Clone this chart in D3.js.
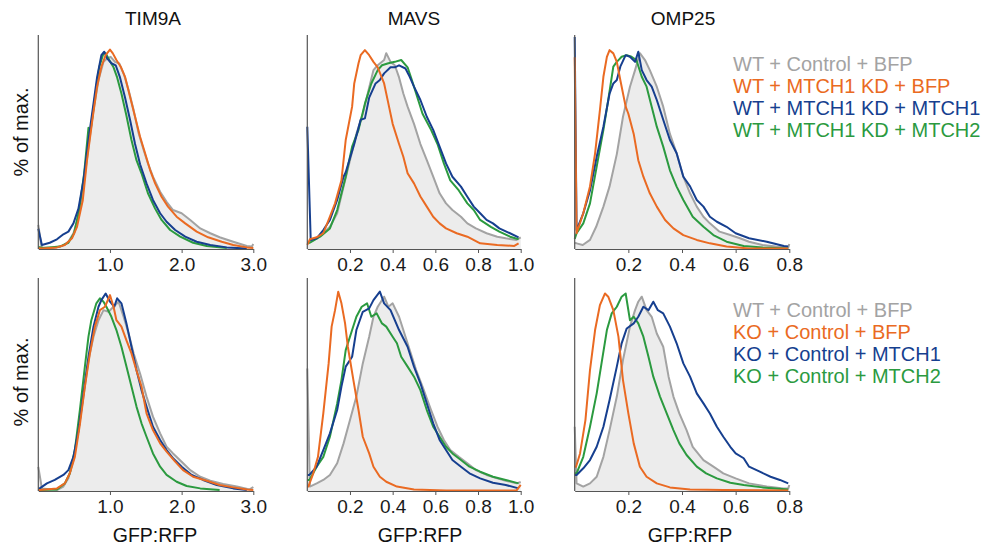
<!DOCTYPE html>
<html><head><meta charset="utf-8">
<script src="https://cdn.jsdelivr.net/npm/d3@7"></script>
<style>body{margin:0;background:#fff} svg{display:block} text{font-family:"Liberation Sans",Arial,Helvetica,sans-serif}</style>
</head><body><svg id="c" width="987" height="550"></svg>
<script>
// ---- data: [GFP:RFP, % of max] ----
const tim9aTopGray=[[0,11.9],[0.047,0.8],[0.21,0.5],[0.33,1.5],[0.42,3.6],[0.49,7.8],[0.56,16],[0.63,31],[0.70,50.7],[0.77,68.8],[0.84,83.7],[0.91,92.7],[0.96,94.4],[1.01,95.2],[1.07,92.7],[1.13,91.9],[1.20,86],[1.26,78.7],[1.33,68.8],[1.40,57.3],[1.47,49],[1.53,42.4],[1.60,35.8],[1.70,28.4],[1.79,23.4],[1.88,19.3],[2.0,17.7],[2.12,14.4],[2.26,10.2],[2.40,7.8],[2.53,5.8],[2.72,3.6],[2.91,1.5],[2.98,1.2],[3.0,2.5]];
const tim9aTopOrange=[[0,0.5],[0.05,0.3],[0.26,0.8],[0.37,2],[0.47,5.3],[0.54,11],[0.62,24],[0.68,44],[0.76,65.5],[0.82,80.4],[0.88,90.3],[0.94,96],[1.0,98.8],[1.04,96.9],[1.09,93.6],[1.15,90.3],[1.21,85.3],[1.28,75.4],[1.35,65.5],[1.42,55.6],[1.49,47.4],[1.56,39.1],[1.63,32.5],[1.72,25.9],[1.81,21],[1.93,16],[2.05,12.7],[2.21,8.6],[2.37,5.8],[2.56,3.6],[2.72,2],[2.91,0.8],[3.0,0.5]];
const tim9aTopBlue=[[0,10],[0.05,2],[0.16,3.1],[0.26,4.8],[0.35,7.3],[0.42,8.6],[0.49,12.7],[0.56,20],[0.63,34],[0.70,54],[0.77,72],[0.82,85],[0.88,96],[0.92,97.7],[0.96,94.4],[1.02,92],[1.08,91],[1.14,85],[1.21,75],[1.28,64],[1.35,52],[1.42,42],[1.51,32.5],[1.60,24.3],[1.70,17.7],[1.79,13.5],[1.91,9.4],[2.05,6.1],[2.21,3.6],[2.40,2],[2.63,0.8],[2.91,0.3]];
const tim9aTopGreen=[[0,1],[0.07,0.5],[0.30,1.2],[0.42,3.1],[0.50,7.8],[0.57,19.3],[0.64,37.5],[0.70,60],[0.73,59],[0.79,75],[0.85,90],[0.91,97],[0.94,97],[0.99,93.6],[1.05,90],[1.10,85],[1.16,77],[1.23,66],[1.30,54],[1.37,44],[1.44,37.5],[1.53,27.6],[1.63,20],[1.72,14.4],[1.84,9.4],[1.98,6.1],[2.16,3.1],[2.35,1.5],[2.63,0.5]];

const mavsTopGray=[[0,3],[0.012,3.6],[0.044,5.3],[0.075,7.8],[0.106,11],[0.14,17.7],[0.17,31],[0.20,44],[0.23,57],[0.26,67],[0.29,80],[0.31,88.6],[0.33,91],[0.36,93.6],[0.37,97],[0.39,92.7],[0.41,91],[0.43,85],[0.45,77],[0.47,70.5],[0.50,62],[0.53,52],[0.56,44],[0.59,35.8],[0.62,27.6],[0.65,22.6],[0.68,19.3],[0.72,16],[0.75,12.7],[0.79,10.2],[0.84,7.8],[0.89,6.1],[0.93,5.3],[0.98,4.5],[1.0,5.8]];
const mavsTopOrange=[[0,2],[0.012,4.8],[0.044,5.8],[0.075,7.8],[0.106,16],[0.13,22.6],[0.16,34],[0.18,54],[0.21,70.5],[0.22,82],[0.24,92],[0.25,96],[0.27,98.5],[0.29,96],[0.31,92.7],[0.33,90],[0.36,82],[0.38,72],[0.40,62],[0.43,52],[0.45,45.7],[0.47,37.5],[0.50,32.5],[0.53,26],[0.56,21],[0.59,16],[0.62,12.7],[0.65,10.2],[0.70,7.8],[0.75,6.1],[0.81,2.8],[0.89,2],[0.97,1.5],[0.99,2.8]];
const mavsTopBlue=[[0,60.6],[0.016,4.5],[0.044,5.3],[0.075,9.4],[0.106,14.4],[0.14,24.3],[0.17,35.8],[0.18,38],[0.22,52],[0.25,64],[0.27,64.7],[0.29,75],[0.32,82],[0.34,83.7],[0.36,87],[0.39,90],[0.41,90],[0.43,91],[0.46,89.4],[0.48,85.3],[0.50,80.4],[0.53,73.8],[0.56,65.5],[0.59,59],[0.62,50.7],[0.65,42.4],[0.68,35.8],[0.72,30.9],[0.75,25.9],[0.78,21],[0.81,17.7],[0.84,14.4],[0.87,12.7],[0.90,10.2],[0.95,7.8],[0.99,5.8]];
const mavsTopGreen=[[0,3],[0.012,3.1],[0.06,6.1],[0.106,10.2],[0.14,19.3],[0.18,35.8],[0.21,50.7],[0.24,59],[0.27,72],[0.30,82],[0.33,88.6],[0.35,91],[0.38,92],[0.41,92.7],[0.44,93.6],[0.47,90],[0.49,83.7],[0.51,77],[0.54,67],[0.58,59],[0.61,52],[0.64,42.4],[0.67,34],[0.71,29],[0.75,22.6],[0.78,19.3],[0.81,14.4],[0.86,11],[0.90,8.6],[0.95,6.1],[0.99,4.8]];

const omp25TopGray=[[0,3],[0.007,2.8],[0.03,2],[0.057,4.5],[0.08,11],[0.107,21],[0.13,31],[0.157,47],[0.18,65.5],[0.206,80.4],[0.225,88.6],[0.243,97],[0.262,93.6],[0.28,88.6],[0.306,80.4],[0.33,70.5],[0.355,57],[0.38,47.4],[0.405,35.8],[0.43,27.6],[0.455,21],[0.48,16],[0.504,12.7],[0.54,8.6],[0.58,6.9],[0.616,5.3],[0.65,3.6],[0.70,2],[0.75,1.2],[0.796,0.8],[0.80,2.5]];
const omp25TopOrange=[[0,95],[0.007,7.8],[0.032,17.7],[0.057,31],[0.076,47.4],[0.094,68.8],[0.107,85.3],[0.12,95.2],[0.13,98.5],[0.144,96.9],[0.157,92.7],[0.17,83.7],[0.19,70.5],[0.20,67],[0.22,57],[0.237,44],[0.256,35.8],[0.28,27.6],[0.306,21],[0.337,14.4],[0.368,10.2],[0.405,6.9],[0.455,4.5],[0.504,2.8],[0.566,1.2],[0.65,0.3],[0.796,0.3]];
const omp25TopBlue=[[0,105],[0.007,9.4],[0.032,17.7],[0.057,29],[0.082,45.7],[0.107,60.6],[0.13,77],[0.144,82],[0.157,83.7],[0.17,90.3],[0.19,96],[0.206,95.2],[0.225,92.7],[0.237,97.7],[0.25,88.6],[0.268,83.7],[0.287,80.4],[0.306,73.8],[0.33,64],[0.355,54],[0.38,47.4],[0.405,35.8],[0.43,31],[0.455,24.3],[0.48,21],[0.504,16],[0.53,13.5],[0.566,11],[0.60,7.8],[0.65,5.3],[0.716,3.6],[0.78,1.5],[0.796,1.2]];
const omp25TopGreen=[[0,5],[0.007,7.8],[0.032,12.7],[0.057,22.6],[0.082,40.8],[0.107,59],[0.125,73.8],[0.144,90.3],[0.157,92.7],[0.175,95.2],[0.194,96],[0.212,95.2],[0.23,93.6],[0.25,85.3],[0.268,80.4],[0.287,70.5],[0.306,60.6],[0.33,50.7],[0.355,39],[0.38,30.9],[0.405,24.3],[0.44,16],[0.48,11],[0.517,6.9],[0.566,3.6],[0.63,1.5],[0.70,0.8],[0.796,0.3]];

const tim9aBotGray=[[0,12],[0.05,1.3],[0.26,0.5],[0.35,2.2],[0.42,6.3],[0.49,15.4],[0.56,30],[0.63,47],[0.70,65],[0.77,76.8],[0.84,85],[0.91,90],[0.98,89.2],[1.05,91.7],[1.12,94.2],[1.19,86.7],[1.26,78.4],[1.33,68.5],[1.42,58.5],[1.51,47],[1.60,37],[1.70,28.7],[1.79,22],[1.88,18.7],[2.0,14.6],[2.12,10.4],[2.26,7.1],[2.40,5.1],[2.58,3.5],[2.77,2.2],[2.95,0.8],[3.0,2]];
const tim9aBotOrange=[[0,0.5],[0.02,0.5],[0.26,1.3],[0.37,3.8],[0.44,8.8],[0.51,17],[0.58,33],[0.65,52],[0.72,68.5],[0.79,81.8],[0.86,90],[0.93,91.7],[1.0,97.5],[1.05,91.7],[1.09,85],[1.16,81.8],[1.23,75],[1.30,68.5],[1.37,60],[1.44,52],[1.51,38.6],[1.60,30.3],[1.70,23.7],[1.79,19.6],[1.91,14.6],[2.02,10.4],[2.16,7.1],[2.35,5.1],[2.53,3],[2.72,1.8],[2.91,0.8],[3.0,0.5]];
const tim9aBotBlue=[[0,1.3],[0.02,1.3],[0.12,3.8],[0.23,5.5],[0.35,8],[0.42,10.4],[0.49,17],[0.56,30],[0.63,48.6],[0.70,66.8],[0.77,81.8],[0.84,91.7],[0.88,95],[0.94,98.3],[1.0,94.2],[1.06,91.7],[1.10,95.9],[1.16,93.4],[1.23,83.4],[1.30,71.8],[1.37,60.2],[1.44,50.2],[1.51,42],[1.60,32],[1.70,25.4],[1.79,20.4],[1.88,16.3],[2.0,12.1],[2.14,8],[2.30,5.5],[2.49,3],[2.72,1.3],[2.91,0.5]];
const tim9aBotGreen=[[0,0.5],[0.02,0.5],[0.26,0.8],[0.37,3.8],[0.44,8.8],[0.51,20.4],[0.58,40.3],[0.65,61.9],[0.70,76.8],[0.74,85],[0.81,93.4],[0.86,95.9],[0.91,94.2],[0.95,91.7],[1.02,86.7],[1.09,80.1],[1.16,71.8],[1.23,61.9],[1.30,52],[1.37,42],[1.44,33.7],[1.51,27],[1.60,18.7],[1.70,12.1],[1.79,8],[1.93,4.6],[2.07,2.5],[2.26,1.3],[2.53,0.5]];

const mavsBotGray=[[0,61],[0.012,2.2],[0.044,3.8],[0.075,5.5],[0.106,8],[0.14,13.8],[0.17,23.7],[0.20,35.3],[0.23,47],[0.26,63.5],[0.29,76.8],[0.31,86.7],[0.33,91.7],[0.36,96.7],[0.38,91.7],[0.40,93.4],[0.43,86.7],[0.45,80.1],[0.48,70.1],[0.51,60.2],[0.54,52],[0.58,40.3],[0.61,32],[0.64,25.4],[0.67,20.4],[0.71,17],[0.75,13.8],[0.79,10.4],[0.84,8],[0.89,6.3],[0.93,5.1],[0.98,3.8],[1.0,4.5]];
const mavsBotOrange=[[0,2.2],[0.005,2.2],[0.028,8.8],[0.05,17],[0.075,38.6],[0.10,63.5],[0.114,81.8],[0.13,90],[0.145,99.2],[0.16,93.4],[0.177,83.4],[0.19,71.8],[0.216,55.2],[0.24,40.3],[0.26,27],[0.29,18.7],[0.31,12.1],[0.34,7.1],[0.37,4.6],[0.42,2.2],[0.50,0.8],[0.65,0.2],[0.98,0.2],[1.0,3]];
const mavsBotBlue=[[0,8],[0.01,8],[0.044,12.1],[0.075,20.4],[0.106,28.7],[0.14,40.3],[0.16,52],[0.18,61.9],[0.21,66.8],[0.23,80.1],[0.26,89.2],[0.29,90.9],[0.31,95],[0.34,99.2],[0.36,93.4],[0.39,90],[0.41,85],[0.43,80.1],[0.47,71.8],[0.50,61.9],[0.53,53.6],[0.56,43.6],[0.59,33.7],[0.62,25.4],[0.65,20.4],[0.68,15.4],[0.72,12.1],[0.76,8.8],[0.81,6.3],[0.87,4.1],[0.93,3],[0.99,1.3]];
const mavsBotGreen=[[0,5.5],[0.01,5.5],[0.044,12.1],[0.075,17],[0.106,27],[0.14,43.6],[0.16,55.2],[0.18,70.1],[0.21,80.1],[0.23,86.7],[0.255,91.7],[0.28,93.4],[0.30,86.7],[0.325,88.4],[0.35,83.4],[0.37,81.8],[0.40,76.8],[0.42,73.5],[0.44,66.8],[0.47,61.9],[0.50,56.9],[0.53,50.2],[0.56,40.3],[0.59,32],[0.62,27],[0.65,22],[0.68,18.7],[0.72,15.4],[0.76,12.1],[0.81,9.6],[0.87,7.1],[0.93,5.5],[0.99,3.8]];

const omp25BotGray=[[0,32],[0.007,3.8],[0.032,2.2],[0.057,3.8],[0.082,7.1],[0.107,17],[0.13,30.3],[0.157,47],[0.18,65.2],[0.206,81.8],[0.225,90],[0.237,94.2],[0.25,96.7],[0.268,90],[0.287,86.7],[0.306,78.4],[0.33,71.8],[0.35,56.9],[0.368,47],[0.39,38.6],[0.417,30.3],[0.44,22],[0.48,15.4],[0.517,12.1],[0.554,8.8],[0.60,6.3],[0.65,3.8],[0.716,2.2],[0.778,1.3],[0.796,1.3],[0.80,3]];
const omp25BotOrange=[[0,12.1],[0.005,12.1],[0.02,18.7],[0.04,35.3],[0.057,60.2],[0.076,80.1],[0.094,92.5],[0.113,98.3],[0.125,96.7],[0.144,90],[0.163,76.8],[0.18,55.2],[0.20,38.6],[0.22,23.7],[0.243,12.1],[0.268,7.1],[0.306,3.8],[0.355,1.8],[0.43,0.8],[0.554,0.5],[0.796,0.2]];
const omp25BotBlue=[[0,8],[0.007,8],[0.032,11.3],[0.057,15.4],[0.082,22],[0.107,32],[0.13,45.3],[0.157,61.9],[0.175,73.5],[0.194,80.9],[0.22,83.4],[0.237,86.7],[0.256,91.7],[0.275,90],[0.293,94.2],[0.31,90],[0.33,88.4],[0.355,81.8],[0.38,73.5],[0.405,63.5],[0.43,56.9],[0.455,48.6],[0.48,43.6],[0.504,38.6],[0.53,32],[0.554,27],[0.58,22],[0.60,18.7],[0.63,16.3],[0.65,12.1],[0.69,9.6],[0.73,7.1],[0.765,5.5],[0.796,3.8]];
const omp25BotGreen=[[0,8.8],[0.007,8.8],[0.032,17],[0.057,32],[0.082,48.6],[0.10,63.5],[0.12,80.1],[0.138,88.4],[0.157,91.7],[0.175,96.7],[0.19,98.3],[0.206,85],[0.22,86.7],[0.237,83.4],[0.256,76.8],[0.275,66.8],[0.293,56.9],[0.318,47],[0.343,38.6],[0.368,30.3],[0.39,23.7],[0.417,17.9],[0.455,12.1],[0.49,8.8],[0.53,6.3],[0.58,4.1],[0.63,3],[0.70,1.8],[0.796,0.8]];

const markers=["TIM9A","MAVS","OMP25"];
const xDomains=[[0,3],[0,1],[0,0.8]];
const xTickValues=[[1,2,3],[0.2,0.4,0.6,0.8,1.0],[0.2,0.4,0.6,0.8]];
const legendTop=["WT + Control + BFP","WT + MTCH1 KD + BFP","WT + MTCH1 KD + MTCH1","WT + MTCH1 KD + MTCH2"];
const legendBottom=["WT + Control + BFP","KO + Control + BFP","KO + Control + MTCH1","KO + Control + MTCH2"];
const yLabel="% of max.";
const xLabel="GFP:RFP";

// series order: gray(control, filled), orange, blue, green
const rowsData=[
  [[tim9aTopGray,tim9aTopOrange,tim9aTopBlue,tim9aTopGreen],
   [mavsTopGray,mavsTopOrange,mavsTopBlue,mavsTopGreen],
   [omp25TopGray,omp25TopOrange,omp25TopBlue,omp25TopGreen]],
  [[tim9aBotGray,tim9aBotOrange,tim9aBotBlue,tim9aBotGreen],
   [mavsBotGray,mavsBotOrange,mavsBotBlue,mavsBotGreen],
   [omp25BotGray,omp25BotOrange,omp25BotBlue,omp25BotGreen]]
];

// ---- style / layout ----
const colors=["#a3a3a3","#ea6a22","#163f8f","#2b9a3f"];
const fillColor="#ececec";
const panelLeft=[38.3,307.3,574.7];
const panelWidth=[215,213.4,214.6];
const rowTop=[35,278], rowBase=[249,491];
const titleX=[153,414,683];
const xLabelX=[155,420,690];
const yLabelY=[132,382];
const legendBaselines=[[71,93,115,137],[317,339,361,383]];

const svg=d3.select("#c");
const drawOrder=[0,3,2,1];

rowsData.forEach((row,ri)=>{
  const y=d3.scaleLinear().domain([0,106]).range([rowBase[ri],rowTop[ri]]);
  row.forEach((series,pi)=>{
    const x=d3.scaleLinear().domain(xDomains[pi]).range([panelLeft[pi],panelLeft[pi]+panelWidth[pi]]);
    const g=svg.append("g");
    const area=d3.area().x(d=>x(d[0])).y0(y(0)).y1(d=>y(d[1]));
    g.append("path").datum(series[0]).attr("d",area).attr("fill",fillColor);
    const line=d3.line().x(d=>x(d[0])).y(d=>y(d[1]));
    drawOrder.forEach(si=>{
      g.append("path").datum(series[si]).attr("d",line).attr("fill","none")
       .attr("stroke",colors[si]).attr("stroke-width",2).attr("stroke-linejoin","round");
    });
    g.append("line").attr("x1",x.range()[0]).attr("x2",x.range()[0])
      .attr("y1",y.range()[1]).attr("y2",y.range()[0]).attr("stroke","#555").attr("stroke-width",1.2);
    const ax=g.append("g").attr("transform",`translate(0,${rowBase[ri]})`)
      .call(d3.axisBottom(x).tickValues(xTickValues[pi]).tickFormat(d3.format(".1f"))
        .tickSize(4).tickSizeOuter(0).tickPadding(5));
    ax.select(".domain").attr("stroke","#555").attr("stroke-width",1.2);
    ax.selectAll(".tick line").attr("stroke","#555");
    ax.selectAll(".tick text").attr("fill","#1a1a1a").style("font-size","19px")
      .style("font-family",'"Liberation Sans",Arial,sans-serif');
    if(ri===0){
      svg.append("text").attr("x",titleX[pi]).attr("y",25).attr("text-anchor","middle")
        .style("font-size","19px").attr("fill","#111").text(markers[pi]);
    } else {
      svg.append("text").attr("x",xLabelX[pi]).attr("y",542).attr("text-anchor","middle")
        .style("font-size","19.5px").attr("fill","#111").text(xLabel);
    }
  });
  svg.append("text").attr("transform",`translate(28,${yLabelY[ri]}) rotate(-90)`)
    .attr("text-anchor","middle").style("font-size","20px").attr("fill","#111").text(yLabel);
  const labels= ri===0?legendTop:legendBottom;
  labels.forEach((t,i)=>{
    svg.append("text").attr("x",733).attr("y",legendBaselines[ri][i])
      .style("font-size","20px").attr("fill",colors[i]).text(t);
  });
});
</script></body></html>
